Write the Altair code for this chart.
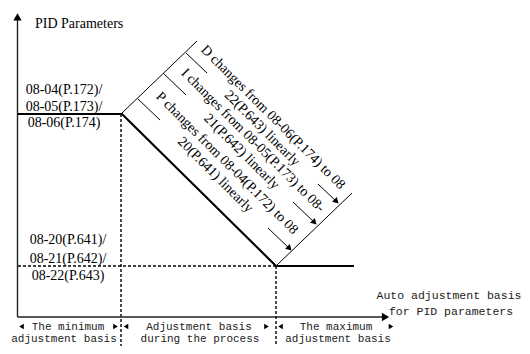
import altair as alt
import pandas as pd

# ---- diagram geometry (diagram units) ----
# PID parameter curve: high level, linear decrease, low level
curve_x = [18, 122, 276, 354]
curve_y = [114, 114, 266, 266]

# coordinate axes (start -> end)
axis_x1 = [17.5, 17.5]
axis_y1 = [317, 317]
axis_x2 = [17.5, 384]
axis_y2 = [20, 317]

# dashed guide lines
dash_x1 = [18, 121, 276]
dash_y1 = [266, 114, 266]
dash_x2 = [276, 121, 276]
dash_y2 = [266, 346, 346]

# thin lines: band edges, tick marks, arrow shafts
thin_x1 = [122, 276, 186, 163, 138, 318, 293, 268]
thin_y1 = [113, 266, 53, 73, 99, 184, 202, 228]
thin_x2 = [197, 352, 207, 186, 160, 337, 315, 290]
thin_y2 = [41, 193, 73, 95, 120, 202, 223, 249]

# arrow heads
head_x = [17.5, 385.5, 336.5, 314.5, 289.5]
head_y = [16.8, 317, 201.5, 222.5, 248.5]
head_shape = ["triangle-up", "triangle-right", "triangle-up", "triangle-up", "triangle-up"]
head_angle = [0, 0, 135, 135, 135]
head_size = [70, 70, 45, 45, 45]

# small range arrows on the bottom row
rng_x = [21.5, 115.5, 126, 266.5, 280.5, 391]
rng_y = [326.5, 326.5, 326.5, 326.5, 326.5, 326.5]
rng_shape = ["triangle-left", "triangle-right", "triangle-left", "triangle-right", "triangle-left", "triangle-right"]

# serif labels
lab_text = ["PID Parameters",
            "08-04(P.172)/", "08-05(P.173)/", "08-06(P.174)",
            "08-20(P.641)/", "08-21(P.642)/", "08-22(P.643)"]
lab_x = [35, 64, 64, 64, 68, 68, 68]
lab_y = [24, 90, 107, 123, 240, 258.5, 276]
lab_align = ["left", "center", "center", "center", "center", "center", "center"]

# rotated descriptions
rot_text = ["D changes from 08-06(P.174) to 08", "22(P.643) linearly",
            "I changes from 08-05(P.173) to 08-", "21(P.642) linearly",
            "P changes from 08-04(P.172) to 08", "20(P.641) linearly"]
rot_x = [272.9, 262.0, 252.8, 241.5, 227.0, 215.3]
rot_y = [117.4, 128.3, 140.4, 151.7, 163.3, 175.0]

# monospace labels
mono_text = ["Auto adjustment basis", "for PID parameters",
             "The minimum", "Adjustment basis", "The maximum",
             "adjustment basis", "during the process", "adjustment basis"]
mono_x = [449, 451, 68, 199, 336, 64, 200, 338]
mono_y = [296, 312, 326.5, 326.5, 326.5, 338.5, 338.5, 338.5]
mono_size = [11.5, 11.5, 11, 11, 11, 11, 11, 11]

xs = alt.Scale(domain=[8, 522], nice=False, zero=False)
ys = alt.Scale(domain=[8, 346], nice=False, zero=False, reverse=True)
X = lambda f: alt.X(f, type="quantitative", scale=xs, axis=None)
Y = lambda f: alt.Y(f, type="quantitative", scale=ys, axis=None)

curve_df = pd.DataFrame({"x": curve_x, "y": curve_y, "o": range(len(curve_x))})
curve = alt.Chart(curve_df).mark_line(color="black", strokeWidth=2.2).encode(
    x=X("x"), y=Y("y"), order="o:Q")

axes_df = pd.DataFrame({"x": axis_x1, "y": axis_y1, "x2": axis_x2, "y2": axis_y2})
axes = alt.Chart(axes_df).mark_rule(color="#222", strokeWidth=1.4).encode(
    x=X("x"), y=Y("y"), x2="x2", y2="y2")

dash_df = pd.DataFrame({"x": dash_x1, "y": dash_y1, "x2": dash_x2, "y2": dash_y2})
dashes = alt.Chart(dash_df).mark_rule(color="black", strokeWidth=1.4, strokeDash=[3, 2]).encode(
    x=X("x"), y=Y("y"), x2="x2", y2="y2")

thin_df = pd.DataFrame({"x": thin_x1, "y": thin_y1, "x2": thin_x2, "y2": thin_y2})
thin = alt.Chart(thin_df).mark_rule(color="black", strokeWidth=1).encode(
    x=X("x"), y=Y("y"), x2="x2", y2="y2")

head_df = pd.DataFrame({"x": head_x, "y": head_y, "shape": head_shape, "angle": head_angle, "size": head_size})
heads = alt.Chart(head_df).mark_point(filled=True, color="black", opacity=1).encode(
    x=X("x"), y=Y("y"),
    shape=alt.Shape("shape:N", scale=None),
    angle=alt.Angle("angle:Q", scale=None),
    size=alt.Size("size:Q", scale=None))

rng_df = pd.DataFrame({"x": rng_x, "y": rng_y, "shape": rng_shape})
rng = alt.Chart(rng_df).mark_point(filled=True, color="black", opacity=1, size=28).encode(
    x=X("x"), y=Y("y"), shape=alt.Shape("shape:N", scale=None))

lab_df = pd.DataFrame({"t": lab_text, "x": lab_x, "y": lab_y, "a": lab_align})
labs_l = alt.Chart(lab_df[lab_df.a == "left"]).mark_text(
    font="Liberation Serif", fontSize=14, align="left", baseline="middle", color="black").encode(
    x=X("x"), y=Y("y"), text="t:N")
labs_c = alt.Chart(lab_df[lab_df.a == "center"]).mark_text(
    font="Liberation Serif", fontSize=14, align="center", baseline="middle", color="black").encode(
    x=X("x"), y=Y("y"), text="t:N")

rot_df = pd.DataFrame({"t": rot_text, "x": rot_x, "y": rot_y})
rot = alt.Chart(rot_df).mark_text(
    font="Liberation Serif", fontSize=14, align="center", baseline="middle", angle=45, color="black").encode(
    x=X("x"), y=Y("y"), text="t:N")

mono_df = pd.DataFrame({"t": mono_text, "x": mono_x, "y": mono_y, "s": mono_size})
mono = alt.Chart(mono_df).mark_text(
    font="Liberation Mono", align="center", baseline="middle", color="#222").encode(
    x=X("x"), y=Y("y"), text="t:N", size=alt.Size("s:Q", scale=None))

chart = alt.layer(dashes, thin, axes, curve, heads, rng, labs_l, labs_c, rot, mono).properties(
    width=514, height=338, padding=0, autosize=alt.AutoSizeParams(type="none")
).configure_view(stroke=None)

chart.save("out.html", embed_options={"renderer": "svg", "actions": False})
